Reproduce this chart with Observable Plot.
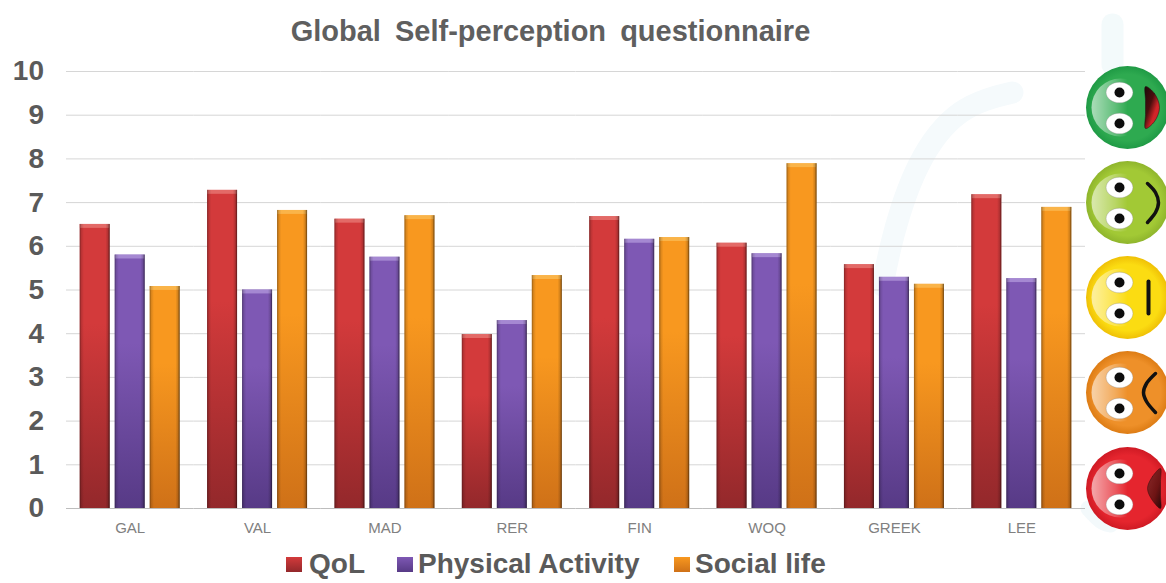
<!DOCTYPE html>
<html>
<head>
<meta charset="utf-8">
<script src="https://cdn.jsdelivr.net/npm/d3@7"></script>
<script src="https://cdn.jsdelivr.net/npm/@observablehq/plot@0.6"></script>
<style>
  html, body { margin: 0; padding: 0; background: #fff; }
  body { width: 1166px; height: 583px; overflow: hidden; position: relative; font-family: "Liberation Sans", Arial, sans-serif; }
  #backdrop { position: absolute; left: 0; top: 0; }
  #chart { position: relative; }
  #title { position: relative; height: 50px; line-height: 62px; text-align: center; width: 1101px; font-size: 29px; word-spacing: 6px; font-weight: bold; color: #5f5f5f; white-space: nowrap; }
  #legend { position: absolute; left: 0; top: 545px; width: 1166px; height: 38px; color: #5a5a5a; font-weight: bold; font-size: 28px; line-height: 38px; }
  #legend span { position: absolute; white-space: nowrap; }
  #legend i { position: absolute; top: 12px; width: 16px; height: 15px; }
</style>
</head>
<body>
<div id="backdrop"></div>
<div id="chart"></div>
<div id="legend"></div>
<script>
// Questionnaire scores per group
const groups = ["GAL", "VAL", "MAD", "RER", "FIN", "WOQ", "GREEK", "LEE"];
const qol      = [6.5, 7.28, 6.62, 3.98, 6.68, 6.07, 5.58, 7.18];
const activity = [5.8, 5.0, 5.75, 4.3, 6.16, 5.83, 5.29, 5.26];
const social   = [5.08, 6.82, 6.7, 5.33, 6.2, 7.89, 5.13, 6.89];
const seriesNames = ["QoL", "Physical Activity", "Social life"];
const yTicks = [0, 1, 2, 3, 4, 5, 6, 7, 8, 9, 10];

const shades = {
  "QoL": ["#d33a3b", "#93282b", "#ee8a86"],
  "Physical Activity": ["#7e58b4", "#573a86", "#c0a8e6"],
  "Social life": ["#f8981f", "#cf7118", "#fcc766"]
};
const gradientId = {"QoL": "bar-red", "Physical Activity": "bar-purple", "Social life": "bar-orange"};
const seriesValues = [qol, activity, social];

const rows = seriesNames.flatMap((name, s) =>
  groups.map((group, g) => ({group, name, value: seriesValues[s][g]}))
);

function stops(colors) {
  return colors.map(([o, c, a]) => `<stop offset="${o}" stop-color="${c}" stop-opacity="${a ?? 1}"/>`).join("");
}
function defsMark() {
  const ns = "http://www.w3.org/2000/svg";
  const defs = document.createElementNS(ns, "defs");
  let html = "";
  for (const name of seriesNames) {
    html += `<linearGradient id="${gradientId[name]}" x1="0" y1="0" x2="0" y2="1">${stops([[0, shades[name][0]], [0.35, shades[name][0]], [1, shades[name][1]]])}</linearGradient>`;
  }
  html += `<linearGradient id="bar-sides" x1="0" y1="0" x2="1" y2="0">${stops([[0, "#000", 0.38], [0.06, "#000", 0.12], [0.14, "#000", 0], [0.86, "#000", 0], [0.94, "#000", 0.16], [1, "#000", 0.58]])}</linearGradient>`;
  defs.innerHTML = html;
  const g = document.createElementNS(ns, "g");
  g.appendChild(defs);
  return g;
}

const bevelHeight = 0.09;
const barMarks = seriesNames.flatMap(name => {
  const data = rows.filter(d => d.name === name);
  return [
    Plot.barY(data, {fx: "group", x: "name", y: "value", fill: `url(#${gradientId[name]})`}),
    Plot.barY(data, {fx: "group", x: "name", y1: d => d.value - bevelHeight, y2: "value", fill: shades[name][2], fillOpacity: 0.6}),
    Plot.barY(data, {fx: "group", x: "name", y: "value", fill: "url(#bar-sides)"})
  ];
});

const chart = Plot.plot({
  width: 1166,
  height: 495,
  marginLeft: 66,
  marginRight: 81,
  marginTop: 21,
  marginBottom: 37,
  style: {background: "transparent", fontFamily: "'Liberation Sans', Arial, sans-serif"},
  fx: {domain: groups, padding: 0, round: false, label: null},
  x: {domain: seriesNames, paddingInner: 0.143, paddingOuter: 0.391, round: false, axis: null},
  y: {domain: [0, 10], label: null},
  marks: [
    defsMark,
    Plot.ruleY(yTicks.filter(t => t > 0), {stroke: "#d6d6d6", strokeWidth: 1}),
    Plot.ruleY([0], {stroke: "#bdbdbd", strokeWidth: 1}),
    ...barMarks,
    Plot.axisY({ticks: yTicks, tickFormat: d => d, tickSize: 0, tickPadding: 22.5, fontSize: 28, fontWeight: "bold", fill: "#5a5a5a", label: null}),
    Plot.axisFx({anchor: "bottom", tickSize: 0, tickPadding: 14, fontSize: 15, fill: "#808080", label: null})
  ]
});

const title = document.createElement("div");
title.id = "title";
title.textContent = "Global Self-perception questionnaire";
const host = document.getElementById("chart");
host.appendChild(title);
host.appendChild(chart);

// Legend swatches and labels under the plot
const legend = document.getElementById("legend");
const legendSlots = [[286, 309], [397, 418], [674, 695]];
seriesNames.forEach((name, i) => {
  const swatch = document.createElement("i");
  swatch.style.left = legendSlots[i][0] + "px";
  swatch.style.background = `linear-gradient(${shades[name][0]}, ${shades[name][1]})`;
  legend.appendChild(swatch);
  const label = document.createElement("span");
  label.style.left = legendSlots[i][1] + "px";
  label.textContent = name;
  legend.appendChild(label);
});

// Rating faces down the right edge, over a pale swoosh
const faceCx = 1127;
const faceYs = [107, 202, 297, 392, 488];
const faceColors = [
  ["#2eaa50", "#1f9a45"],
  ["#a2c935", "#8fb52c"],
  ["#fbdc12", "#efc006"],
  ["#ee9029", "#dd7c14"],
  ["#e5252e", "#cf1a24"]
];
const eyeOffsetsX = [-8, -8];
const eyeOffsetsY = [-15, 16];
const smile = [[20, -19], [28, -10], [31, 0], [28, 10], [20, 20]];
const straight = [[21, -16], [21, 16]];
const frown = [[28, -19], [19, -9], [16, 0], [19, 9], [28, 20]];
const openSmile = [[18, -21], [27, -14], [32, 0], [27, 14], [18, 21], [18, 7], [18, -7]];
const openFrown = [[33, -20], [25, -12], [20, 0], [25, 12], [33, 20], [33, 7], [33, -7]];

const swooshA = [[1012, 92], [960, 112], [918, 165], [893, 235], [882, 285]];
const swooshB = [[1112, 24], [1112, 64]];
const swooshC = [[1088, 508], [1100, 520], [1110, 524]];

const ellipseEye = {
  draw(ctx, size) {
    const r = Math.sqrt(size / Math.PI), a = r * 1.22, b = r * 0.94, k = 0.5523;
    ctx.moveTo(-a, 0);
    ctx.bezierCurveTo(-a, -b * k, -a * k, -b, 0, -b);
    ctx.bezierCurveTo(a * k, -b, a, -b * k, a, 0);
    ctx.bezierCurveTo(a, b * k, a * k, b, 0, b);
    ctx.bezierCurveTo(-a * k, b, -a, b * k, -a, 0);
    ctx.closePath();
  }
};

function faceDefs() {
  const ns = "http://www.w3.org/2000/svg";
  const defs = document.createElementNS(ns, "defs");
  let html = `<linearGradient id="face-shine" x1="0" y1="0" x2="1" y2="0">${stops([[0, "#fff", 0.6], [0.4, "#fff", 0.25], [0.62, "#fff", 0]])}</linearGradient>`;
  html += `<linearGradient id="mouth-red" x1="0" y1="0" x2="1" y2="1">${stops([[0, "#1c0a0a"], [0.4, "#4a0e0e"], [0.65, "#d02428"], [1, "#d8262a"]])}</linearGradient>`;
  html += `<linearGradient id="mouth-dark" x1="0" y1="0" x2="1" y2="1">${stops([[0, "#8c2a2a"], [0.6, "#6e1414"], [1, "#2a0808"]])}</linearGradient>`;
  faceColors.forEach(([inner, outer], i) => {
    html += `<radialGradient id="face-${i}" cx="0.5" cy="0.5" r="0.5">${stops([[0, inner], [0.8, inner], [1, outer]])}</radialGradient>`;
  });
  defs.innerHTML = html;
  const g = document.createElementNS(ns, "g");
  g.appendChild(defs);
  return g;
}

const place = (i, pts) => pts.map(([dx, dy]) => ({x: faceCx + dx, y: faceYs[i] + dy}));
const faces = faceYs.map((y, i) => ({x: faceCx, y, i}));
const eyes = faces.flatMap(f => eyeOffsetsX.map((dx, k) => ({x: f.x + dx, y: f.y + eyeOffsetsY[k]})));

const backdrop = Plot.plot({
  width: 1166,
  height: 583,
  margin: 0,
  x: {domain: [0, 1166], range: [0, 1166], axis: null},
  y: {domain: [0, 583], range: [0, 583], axis: null},
  style: {background: "transparent"},
  marks: [
    faceDefs,
    Plot.line(swooshA.map(([x, y]) => ({x, y})), {x: "x", y: "y", curve: "natural", stroke: "#f5fafc", strokeWidth: 22}),
    Plot.line(swooshB.map(([x, y]) => ({x, y})), {x: "x", y: "y", stroke: "#f3fafb", strokeWidth: 22}),
    Plot.line(swooshC.map(([x, y]) => ({x, y})), {x: "x", y: "y", curve: "natural", stroke: "#f3f9fb", strokeWidth: 16}),
    ...faces.map(f => Plot.dot([f], {x: "x", y: "y", r: 41.5, fill: `url(#face-${f.i})`})),
    Plot.dot(faces, {x: d => d.x - 7, y: "y", r: 29, fill: "url(#face-shine)"}),
    Plot.dot(eyes, {x: "x", y: "y", r: 11, symbol: ellipseEye, fill: "#fff", stroke: "#8a8a8a", strokeOpacity: 0.35, strokeWidth: 1}),
    Plot.dot(eyes, {x: "x", y: "y", r: 5, fill: "#0d0d0d"}),
    Plot.line(place(0, openSmile), {x: "x", y: "y", curve: "catmull-rom-closed", fill: "url(#mouth-red)", stroke: "#1c1010", strokeWidth: 0.5}),
    Plot.line(place(1, smile), {x: "x", y: "y", curve: "catmull-rom", stroke: "#111", strokeWidth: 3.5}),
    Plot.line(place(2, straight), {x: "x", y: "y", stroke: "#111", strokeWidth: 4}),
    Plot.line(place(3, frown), {x: "x", y: "y", curve: "catmull-rom", stroke: "#111", strokeWidth: 3.5}),
    Plot.line(place(4, openFrown), {x: "x", y: "y", curve: "catmull-rom-closed", fill: "url(#mouth-dark)", stroke: "#3a0a0a", strokeWidth: 0.5})
  ]
});
document.getElementById("backdrop").appendChild(backdrop);
</script>
</body>
</html>
